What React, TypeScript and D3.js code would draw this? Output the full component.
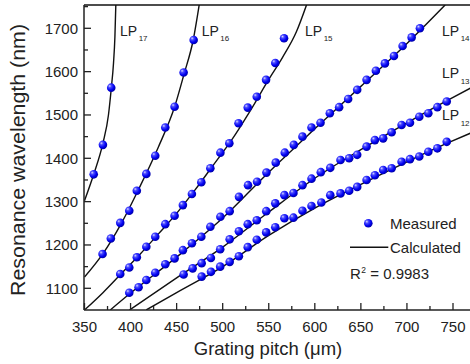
import React from "react";
import * as d3 from "d3";

// ---------- data ----------
const xTicks = [350, 400, 450, 500, 550, 600, 650, 700, 750];
const xMinorTicks = [375, 425, 475, 525, 575, 625, 675, 725];
const yTicks = [1100, 1200, 1300, 1400, 1500, 1600, 1700];
const yMinorTicks = [1150, 1250, 1350, 1450, 1550, 1650, 1750];

// Measured points
const lp17Pitch = [360, 370, 379];
const lp17Wl = [1363, 1431, 1563];

const lp16Pitch = [369.6, 378.6, 388.8, 398.6, 406.8, 417.1, 426.8, 437.7, 447.8, 457.6, 468.5];
const lp16Wl = [1179, 1215, 1251, 1279, 1325, 1364, 1406, 1471, 1519, 1598, 1673];

const lp15Pitch = [388.8, 398.6, 406.8, 417.1, 426.8, 437.7, 447.8, 456.8, 466.6, 476.8, 486.6, 497.5, 507.2, 517.2, 527.2, 537, 547.1, 557.1, 566.6];
const lp15Wl = [1133, 1148, 1171.5, 1196, 1219, 1248, 1267.5, 1292, 1317.6, 1344.6, 1377, 1413, 1434.6, 1481, 1517, 1542, 1581, 1620, 1677];

const lp14Pitch = [398.6, 408.7, 417.1, 426.8, 437.7, 447.8, 456.8, 466.6, 476.8, 486.6, 497.5, 507.6, 517.7, 527.5, 537.3, 547.5, 557.6, 567.4, 577.2, 586.6, 596.4, 606.2, 616.3, 626.4, 636.2, 646, 656.2, 666.3, 676.1, 685.9, 695.3, 705.1, 714.1];
const lp14Wl = [1089.8, 1102.3, 1119, 1136, 1155.4, 1169, 1188, 1204, 1219, 1242, 1265, 1278, 1311, 1338, 1346, 1367, 1390, 1413, 1431, 1450, 1471, 1482, 1504, 1518, 1537, 1558, 1581, 1602, 1619, 1636, 1659, 1679, 1700];

const lp13Pitch = [457.6, 467.4, 477.2, 487.2, 497.3, 507.6, 517.6, 527.2, 537, 547.3, 557.1, 567, 576.8, 586.6, 596.4, 606.5, 616.8, 627.9, 637.3, 646, 656.2, 665.2, 674.2, 683.4, 694.2, 703.3, 713.4, 723.2, 733, 743.2];
const lp13Wl = [1132, 1146, 1158, 1170, 1190, 1213, 1231.5, 1248, 1257, 1278, 1296, 1315, 1320, 1338, 1353, 1368, 1378, 1396, 1400, 1408, 1427, 1442, 1446, 1460, 1477, 1482, 1496, 1504, 1518, 1531];

const lp12Pitch = [477.2, 487.3, 497.3, 507.6, 517.6, 527.2, 537, 547.2, 557.1, 567, 576.8, 586.6, 596.4, 607.1, 616.8, 627.9, 637.3, 646, 656.2, 665.2, 674.2, 683.4, 694.2, 703.3, 713.4, 723.2, 733, 743.2];
const lp12Wl = [1127, 1138, 1150, 1161, 1174, 1195, 1212, 1229, 1241, 1261.5, 1263, 1279, 1290, 1298, 1315, 1319, 1325, 1334, 1350, 1361, 1373, 1377, 1392, 1398, 1404, 1415, 1423, 1438];

// Calculated curves (knots)
const calc17Pitch = [350, 360, 370, 376, 379, 381.5, 383, 384];
const calc17Wl = [1302, 1363, 1435, 1500, 1560, 1620, 1680, 1754];
const calc16Pitch = [350, 370, 390, 410, 430, 448, 458, 468, 474.5];
const calc16Wl = [1126, 1180, 1250, 1334, 1425, 1520, 1594, 1673, 1754];
const calc15Pitch = [350, 370, 390, 410, 430, 450, 470, 490, 510, 530, 550, 565, 580, 591];
const calc15Wl = [1050, 1090, 1134, 1178, 1225, 1273, 1327, 1385, 1443, 1510, 1582, 1633, 1692, 1754];
const calc14Pitch = [378, 400, 450, 500, 550, 600, 650, 700, 741.5];
const calc14Wl = [1050, 1089, 1172, 1262, 1368, 1468, 1566, 1665, 1754];
const calc13Pitch = [399, 450, 500, 550, 600, 650, 700, 745, 769];
const calc13Wl = [1050, 1124, 1195, 1276, 1354, 1420, 1482, 1535, 1562];
const calc12Pitch = [417, 450, 500, 550, 600, 650, 700, 745, 769];
const calc12Wl = [1050, 1090, 1150, 1222, 1285, 1340, 1392, 1436, 1458];

const modeNames = ["17", "16", "15", "14", "13", "12"];

const measured = [
  [lp17Pitch, lp17Wl],
  [lp16Pitch, lp16Wl],
  [lp15Pitch, lp15Wl],
  [lp14Pitch, lp14Wl],
  [lp13Pitch, lp13Wl],
  [lp12Pitch, lp12Wl],
];
const calculated = [
  [calc17Pitch, calc17Wl],
  [calc16Pitch, calc16Wl],
  [calc15Pitch, calc15Wl],
  [calc14Pitch, calc14Wl],
  [calc13Pitch, calc13Wl],
  [calc12Pitch, calc12Wl],
];

// ---------- layout ----------
const W = 470;
const H = 364;
const left = 84;
const top = 5;
const bottom = 310;
const right = 472;
const FONT = "'Liberation Sans', Arial, Helvetica, sans-serif";

const x = d3.scaleLinear().domain([350, 750]).range([84.5, 453]);
const y = d3.scaleLinear().domain([1100, 1700]).range([288.3, 28.3]);

const labelPos: { x: number; y: number }[] = [
  { x: 120, y: 35.5 },
  { x: 201.7, y: 35.5 },
  { x: 305, y: 35.5 },
  { x: 442, y: 35.5 },
  { x: 442, y: 78.3 },
  { x: 442, y: 120.3 },
];

export default function App() {
  const line = d3
    .line<[number, number]>()
    .x((d) => x(d[0]))
    .y((d) => y(d[1]))
    .curve(d3.curveMonotoneX);

  return (
    <svg
      width={W}
      height={H}
      style={{ position: "absolute", left: 0, top: 0, background: "#fff" }}
      fontFamily={FONT}
    >
      <defs>
        <clipPath id="plot">
          <rect x={left} y={top} width={right - left} height={bottom - top} />
        </clipPath>
        <radialGradient id="ball" cx="0.38" cy="0.35" r="0.65" fx="0.32" fy="0.3">
          <stop offset="0%" stopColor="#d8d8ff" />
          <stop offset="28%" stopColor="#4a4aff" />
          <stop offset="70%" stopColor="#0000f0" />
          <stop offset="100%" stopColor="#0000a8" />
        </radialGradient>
      </defs>
      <rect x={0} y={0} width={W} height={H} fill="#fff" />

      {/* calculated curves */}
      <g clipPath="url(#plot)">
        {calculated.map(([px, wl], i) => (
          <path
            key={i}
            d={line(px.map((p, j) => [p, wl[j]] as [number, number])) || ""}
            fill="none"
            stroke="#111"
            strokeWidth={1.4}
          />
        ))}
      </g>

      {/* measured points */}
      <g clipPath="url(#plot)">
        {measured.map(([px, wl], i) =>
          px.map((p, j) => (
            <circle key={`${i}-${j}`} cx={x(p)} cy={y(wl[j])} r={4.3} fill="url(#ball)" />
          ))
        )}
      </g>

      {/* frame */}
      <line x1={left} x2={right} y1={top} y2={top} stroke="#111" strokeWidth={1.5} />
      <line x1={left} x2={left} y1={top} y2={bottom} stroke="#222" strokeWidth={1.5} />
      <line x1={left} x2={right} y1={bottom} y2={bottom} stroke="#222" strokeWidth={1.5} />

      {/* x ticks */}
      {xTicks.map((t) => (
        <g key={`xt${t}`}>
          <line x1={x(t)} x2={x(t)} y1={bottom} y2={bottom - 7} stroke="#222" strokeWidth={1.3} />
          <text x={x(t)} y={331.5} textAnchor="middle" fontSize={15} fill="#222">
            {t}
          </text>
        </g>
      ))}
      {xMinorTicks.map((t) => (
        <line key={`xm${t}`} x1={x(t)} x2={x(t)} y1={bottom} y2={bottom - 4} stroke="#222" strokeWidth={1.3} />
      ))}

      {/* y ticks */}
      {yTicks.map((t) => (
        <g key={`yt${t}`}>
          <line x1={left} x2={left + 7} y1={y(t)} y2={y(t)} stroke="#222" strokeWidth={1.3} />
          <text x={78} y={y(t) + 5.3} textAnchor="end" fontSize={15} fill="#222">
            {t}
          </text>
        </g>
      ))}
      {yMinorTicks.map((t) => (
        <line key={`ym${t}`} x1={left} x2={left + 4} y1={y(t)} y2={y(t)} stroke="#222" strokeWidth={1.3} />
      ))}

      {/* axis titles */}
      <text x={268} y={355} textAnchor="middle" fontSize={18.5} fill="#222">
        Grating pitch (μm)
      </text>
      <text
        transform="translate(25,160) rotate(-90)"
        textAnchor="middle"
        fontSize={19.5}
        fill="#222"
        textLength={272}
        lengthAdjust="spacingAndGlyphs"
      >
        Resonance wavelength (nm)
      </text>

      {/* mode labels */}
      {modeNames.map((m, i) => (
        <text key={m} x={labelPos[i].x} y={labelPos[i].y} fontSize={14} fill="#222">
          LP
          <tspan dx={1.5} dy={5.5} fontSize={8}>
            {m}
          </tspan>
        </text>
      ))}

      {/* legend */}
      <circle cx={368.3} cy={223.3} r={4.3} fill="url(#ball)" />
      <text x={390} y={228.5} fontSize={15} fill="#222">
        Measured
      </text>
      <line x1={350} x2={388.3} y1={247.3} y2={247.3} stroke="#111" strokeWidth={1.4} />
      <text x={390} y={252.5} fontSize={15} fill="#222">
        Calculated
      </text>
      <text x={350} y={279} fontSize={15} fill="#222">
        R
        <tspan dx={0.5} dy={-6} fontSize={8.5}>
          2
        </tspan>
        <tspan dx={0} dy={6}>
          {"\u00a0= 0.9983"}
        </tspan>
      </text>
    </svg>
  );
}
